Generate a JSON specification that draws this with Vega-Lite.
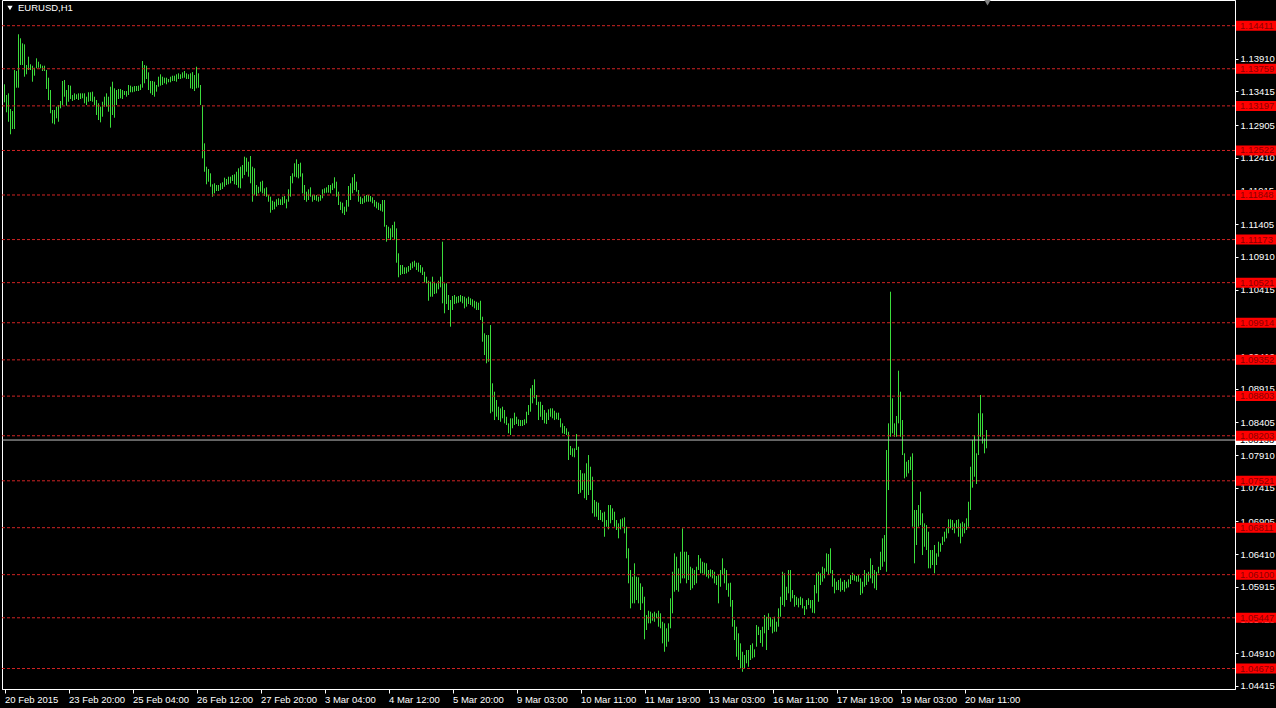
{
"$schema":"https://vega.github.io/schema/vega-lite/v6.json",
"width":1233,"height":689,
"autosize":{"type":"none"},
"padding":{"left":2,"top":0,"right":41,"bottom":19},
"background":"#000000",
"config":{"view":{"stroke":"#ffffff","strokeWidth":1},"font":"Liberation Sans"},
"datasets":{
"bars":[
{"i":0,"h":1.13524,"l":1.13251},{"i":1,"h":1.13362,"l":1.13100},{"i":2,"h":1.13387,"l":1.12957},{"i":3,"h":1.13150,"l":1.12767},{"i":4,"h":1.13119,"l":1.12847},{"i":5,"h":1.13740,"l":1.12847},{"i":6,"h":1.13725,"l":1.13472},{"i":7,"h":1.14281,"l":1.13472},{"i":8,"h":1.14220,"l":1.13816},{"i":9,"h":1.14144,"l":1.13816},
{"i":10,"h":1.14129,"l":1.13639},{"i":11,"h":1.13816,"l":1.13675},{"i":12,"h":1.13942,"l":1.13740},{"i":13,"h":1.13827,"l":1.13740},{"i":14,"h":1.13805,"l":1.13563},{"i":15,"h":1.13775,"l":1.13654},{"i":16,"h":1.13917,"l":1.13766},{"i":17,"h":1.13866,"l":1.13775},{"i":18,"h":1.13827,"l":1.13766},{"i":19,"h":1.13805,"l":1.13725},
{"i":20,"h":1.13805,"l":1.13725},{"i":21,"h":1.13740,"l":1.13453},{"i":22,"h":1.13624,"l":1.13286},{"i":23,"h":1.13437,"l":1.13085},{"i":24,"h":1.13135,"l":1.12933},{"i":25,"h":1.13135,"l":1.12918},{"i":26,"h":1.13185,"l":1.13009},{"i":27,"h":1.13210,"l":1.12957},{"i":28,"h":1.13271,"l":1.13160},{"i":29,"h":1.13574,"l":1.13210},
{"i":30,"h":1.13589,"l":1.13336},{"i":31,"h":1.13437,"l":1.13200},{"i":32,"h":1.13513,"l":1.13260},{"i":33,"h":1.13503,"l":1.13301},{"i":34,"h":1.13362,"l":1.13271},{"i":35,"h":1.13387,"l":1.13286},{"i":36,"h":1.13372,"l":1.13301},{"i":37,"h":1.13387,"l":1.13286},{"i":38,"h":1.13387,"l":1.13301},{"i":39,"h":1.13387,"l":1.13312},
{"i":40,"h":1.13387,"l":1.13236},{"i":41,"h":1.13336,"l":1.13210},{"i":42,"h":1.13403,"l":1.13260},{"i":43,"h":1.13403,"l":1.13271},{"i":44,"h":1.13412,"l":1.13260},{"i":45,"h":1.13336,"l":1.13210},{"i":46,"h":1.13286,"l":1.13059},{"i":47,"h":1.13236,"l":1.12983},{"i":48,"h":1.13185,"l":1.12948},{"i":49,"h":1.13260,"l":1.13033},
{"i":50,"h":1.13336,"l":1.13185},{"i":51,"h":1.13387,"l":1.13185},{"i":52,"h":1.13336,"l":1.13109},{"i":53,"h":1.13487,"l":1.12867},{"i":54,"h":1.13563,"l":1.13059},{"i":55,"h":1.13463,"l":1.13018},{"i":56,"h":1.13437,"l":1.13210},{"i":57,"h":1.13453,"l":1.13301},{"i":58,"h":1.13453,"l":1.13312},{"i":59,"h":1.13437,"l":1.13301},
{"i":60,"h":1.13422,"l":1.13362},{"i":61,"h":1.13422,"l":1.13336},{"i":62,"h":1.13513,"l":1.13362},{"i":63,"h":1.13503,"l":1.13403},{"i":64,"h":1.13487,"l":1.13403},{"i":65,"h":1.13498,"l":1.13412},{"i":66,"h":1.13498,"l":1.13422},{"i":67,"h":1.13503,"l":1.13422},{"i":68,"h":1.13524,"l":1.13437},{"i":69,"h":1.13876,"l":1.13472},
{"i":70,"h":1.13816,"l":1.13539},{"i":71,"h":1.13805,"l":1.13604},{"i":72,"h":1.13705,"l":1.13437},{"i":73,"h":1.13574,"l":1.13387},{"i":74,"h":1.13574,"l":1.13362},{"i":75,"h":1.13563,"l":1.13336},{"i":76,"h":1.13513,"l":1.13412},{"i":77,"h":1.13639,"l":1.13487},{"i":78,"h":1.13675,"l":1.13503},{"i":79,"h":1.13639,"l":1.13513},
{"i":80,"h":1.13624,"l":1.13539},{"i":81,"h":1.13624,"l":1.13524},{"i":82,"h":1.13604,"l":1.13554},{"i":83,"h":1.13639,"l":1.13554},{"i":84,"h":1.13654,"l":1.13574},{"i":85,"h":1.13654,"l":1.13574},{"i":86,"h":1.13675,"l":1.13563},{"i":87,"h":1.13690,"l":1.13604},{"i":88,"h":1.13675,"l":1.13604},{"i":89,"h":1.13705,"l":1.13615},
{"i":90,"h":1.13725,"l":1.13624},{"i":91,"h":1.13690,"l":1.13604},{"i":92,"h":1.13675,"l":1.13604},{"i":93,"h":1.13690,"l":1.13463},{"i":94,"h":1.13709,"l":1.13453},{"i":95,"h":1.13664,"l":1.13422},{"i":96,"h":1.13790,"l":1.13463},{"i":97,"h":1.13690,"l":1.13472},{"i":98,"h":1.13513,"l":1.13210},{"i":99,"h":1.13210,"l":1.12403},
{"i":100,"h":1.12630,"l":1.12200},{"i":101,"h":1.12276,"l":1.12010},{"i":102,"h":1.12241,"l":1.12049},{"i":103,"h":1.12176,"l":1.11973},{"i":104,"h":1.12010,"l":1.11822},{"i":105,"h":1.12025,"l":1.11873},{"i":106,"h":1.11999,"l":1.11908},{"i":107,"h":1.11999,"l":1.11908},{"i":108,"h":1.12025,"l":1.11923},{"i":109,"h":1.12040,"l":1.11939},
{"i":110,"h":1.12110,"l":1.11973},{"i":111,"h":1.12090,"l":1.11999},{"i":112,"h":1.12125,"l":1.12010},{"i":113,"h":1.12125,"l":1.12025},{"i":114,"h":1.12151,"l":1.12060},{"i":115,"h":1.12161,"l":1.12010},{"i":116,"h":1.12200,"l":1.11999},{"i":117,"h":1.12252,"l":1.11958},{"i":118,"h":1.12276,"l":1.11949},{"i":119,"h":1.12302,"l":1.12100},
{"i":120,"h":1.12428,"l":1.12151},{"i":121,"h":1.12412,"l":1.12200},{"i":122,"h":1.12352,"l":1.12125},{"i":123,"h":1.12438,"l":1.12025},{"i":124,"h":1.12276,"l":1.11746},{"i":125,"h":1.12252,"l":1.11848},{"i":126,"h":1.11999,"l":1.11833},{"i":127,"h":1.11973,"l":1.11873},{"i":128,"h":1.12049,"l":1.11898},{"i":129,"h":1.12064,"l":1.11873},
{"i":130,"h":1.11949,"l":1.11833},{"i":131,"h":1.11964,"l":1.11822},{"i":132,"h":1.11848,"l":1.11746},{"i":133,"h":1.11822,"l":1.11580},{"i":134,"h":1.11761,"l":1.11621},{"i":135,"h":1.11746,"l":1.11631},{"i":136,"h":1.11783,"l":1.11671},{"i":137,"h":1.11798,"l":1.11696},{"i":138,"h":1.11783,"l":1.11696},{"i":139,"h":1.11822,"l":1.11696},
{"i":140,"h":1.11833,"l":1.11722},{"i":141,"h":1.11783,"l":1.11646},{"i":142,"h":1.11934,"l":1.11746},{"i":143,"h":1.12135,"l":1.11822},{"i":144,"h":1.12176,"l":1.12025},{"i":145,"h":1.12328,"l":1.12125},{"i":146,"h":1.12388,"l":1.12116},{"i":147,"h":1.12317,"l":1.12100},{"i":148,"h":1.12337,"l":1.12125},{"i":149,"h":1.12176,"l":1.11873},
{"i":150,"h":1.11999,"l":1.11772},{"i":151,"h":1.11898,"l":1.11746},{"i":152,"h":1.11934,"l":1.11772},{"i":153,"h":1.11964,"l":1.11822},{"i":154,"h":1.11848,"l":1.11746},{"i":155,"h":1.11848,"l":1.11772},{"i":156,"h":1.11848,"l":1.11761},{"i":157,"h":1.11822,"l":1.11746},{"i":158,"h":1.11848,"l":1.11761},{"i":159,"h":1.11934,"l":1.11798},
{"i":160,"h":1.11949,"l":1.11873},{"i":161,"h":1.11964,"l":1.11883},{"i":162,"h":1.11999,"l":1.11883},{"i":163,"h":1.11999,"l":1.11873},{"i":164,"h":1.12025,"l":1.11923},{"i":165,"h":1.12116,"l":1.11949},{"i":166,"h":1.12049,"l":1.11822},{"i":167,"h":1.11898,"l":1.11696},{"i":168,"h":1.11746,"l":1.11621},{"i":169,"h":1.11731,"l":1.11571},
{"i":170,"h":1.11671,"l":1.11545},{"i":171,"h":1.11772,"l":1.11595},{"i":172,"h":1.11984,"l":1.11671},{"i":173,"h":1.12025,"l":1.11772},{"i":174,"h":1.12116,"l":1.11873},{"i":175,"h":1.12166,"l":1.11923},{"i":176,"h":1.12049,"l":1.11898},{"i":177,"h":1.11923,"l":1.11746},{"i":178,"h":1.11822,"l":1.11711},{"i":179,"h":1.11798,"l":1.11711},
{"i":180,"h":1.11833,"l":1.11731},{"i":181,"h":1.11848,"l":1.11746},{"i":182,"h":1.11848,"l":1.11746},{"i":183,"h":1.11833,"l":1.11746},{"i":184,"h":1.11813,"l":1.11722},{"i":185,"h":1.11772,"l":1.11671},{"i":186,"h":1.11746,"l":1.11646},{"i":187,"h":1.11731,"l":1.11621},{"i":188,"h":1.11711,"l":1.11610},{"i":189,"h":1.11772,"l":1.11595},
{"i":190,"h":1.11772,"l":1.11368},{"i":191,"h":1.11394,"l":1.11141},{"i":192,"h":1.11368,"l":1.11192},{"i":193,"h":1.11343,"l":1.11166},{"i":194,"h":1.11394,"l":1.11207},{"i":195,"h":1.11444,"l":1.11166},{"i":196,"h":1.11343,"l":1.10823},{"i":197,"h":1.10965,"l":1.10602},{"i":198,"h":1.10788,"l":1.10636},{"i":199,"h":1.10788,"l":1.10652},
{"i":200,"h":1.10753,"l":1.10652},{"i":201,"h":1.10753,"l":1.10662},{"i":202,"h":1.10773,"l":1.10686},{"i":203,"h":1.10814,"l":1.10712},{"i":204,"h":1.10838,"l":1.10738},{"i":205,"h":1.10853,"l":1.10762},{"i":206,"h":1.10823,"l":1.10712},{"i":207,"h":1.10823,"l":1.10686},{"i":208,"h":1.10788,"l":1.10671},{"i":209,"h":1.10753,"l":1.10636},
{"i":210,"h":1.10686,"l":1.10520},{"i":211,"h":1.10611,"l":1.10511},{"i":212,"h":1.10550,"l":1.10247},{"i":213,"h":1.10535,"l":1.10308},{"i":214,"h":1.10611,"l":1.10308},{"i":215,"h":1.10535,"l":1.10349},{"i":216,"h":1.10511,"l":1.10359},{"i":217,"h":1.10550,"l":1.10420},{"i":218,"h":1.10611,"l":1.10450},{"i":219,"h":1.11141,"l":1.10208},
{"i":220,"h":1.10511,"l":1.10057},{"i":221,"h":1.10511,"l":1.10197},{"i":222,"h":1.10334,"l":1.10107},{"i":223,"h":1.10258,"l":1.09854},{"i":224,"h":1.10319,"l":1.10107},{"i":225,"h":1.10334,"l":1.10197},{"i":226,"h":1.10308,"l":1.10208},{"i":227,"h":1.10319,"l":1.10217},{"i":228,"h":1.10334,"l":1.10232},{"i":229,"h":1.10319,"l":1.10208},
{"i":230,"h":1.10308,"l":1.10132},{"i":231,"h":1.10284,"l":1.10157},{"i":232,"h":1.10308,"l":1.10197},{"i":233,"h":1.10284,"l":1.10182},{"i":234,"h":1.10269,"l":1.10157},{"i":235,"h":1.10247,"l":1.10132},{"i":236,"h":1.10232,"l":1.10107},{"i":237,"h":1.10217,"l":1.10107},{"i":238,"h":1.10247,"l":1.09955},{"i":239,"h":1.10005,"l":1.09627},
{"i":240,"h":1.09754,"l":1.09425},{"i":241,"h":1.09728,"l":1.09300},{"i":242,"h":1.09728,"l":1.09324},{"i":243,"h":1.09879,"l":1.08543},{"i":244,"h":1.08997,"l":1.08567},{"i":245,"h":1.08870,"l":1.08441},{"i":246,"h":1.08744,"l":1.08491},{"i":247,"h":1.08643,"l":1.08441},{"i":248,"h":1.08618,"l":1.08415},{"i":249,"h":1.08643,"l":1.08467},
{"i":250,"h":1.08593,"l":1.08391},{"i":251,"h":1.08491,"l":1.08366},{"i":252,"h":1.08391,"l":1.08240},{"i":253,"h":1.08467,"l":1.08214},{"i":254,"h":1.08467,"l":1.08316},{"i":255,"h":1.08552,"l":1.08366},{"i":256,"h":1.08491,"l":1.08381},{"i":257,"h":1.08452,"l":1.08350},{"i":258,"h":1.08441,"l":1.08350},{"i":259,"h":1.08441,"l":1.08350},
{"i":260,"h":1.08452,"l":1.08366},{"i":261,"h":1.08567,"l":1.08391},{"i":262,"h":1.08668,"l":1.08517},{"i":263,"h":1.08921,"l":1.08567},{"i":264,"h":1.08971,"l":1.08694},{"i":265,"h":1.09057,"l":1.08770},{"i":266,"h":1.08820,"l":1.08668},{"i":267,"h":1.08718,"l":1.08441},{"i":268,"h":1.08718,"l":1.08491},{"i":269,"h":1.08668,"l":1.08441},
{"i":270,"h":1.08593,"l":1.08391},{"i":271,"h":1.08552,"l":1.08381},{"i":272,"h":1.08603,"l":1.08441},{"i":273,"h":1.08618,"l":1.08491},{"i":274,"h":1.08618,"l":1.08467},{"i":275,"h":1.08582,"l":1.08441},{"i":276,"h":1.08552,"l":1.08452},{"i":277,"h":1.08552,"l":1.08441},{"i":278,"h":1.08467,"l":1.08331},{"i":279,"h":1.08391,"l":1.08240},
{"i":280,"h":1.08350,"l":1.08229},{"i":281,"h":1.08316,"l":1.08214},{"i":282,"h":1.08264,"l":1.07836},{"i":283,"h":1.08048,"l":1.07911},{"i":284,"h":1.08013,"l":1.07886},{"i":285,"h":1.08013,"l":1.07876},{"i":286,"h":1.08229,"l":1.07987},{"i":287,"h":1.08037,"l":1.07321},{"i":288,"h":1.07684,"l":1.07340},{"i":289,"h":1.07634,"l":1.07381},
{"i":290,"h":1.07634,"l":1.07257},{"i":291,"h":1.07786,"l":1.07230},{"i":292,"h":1.07911,"l":1.07306},{"i":293,"h":1.07734,"l":1.07381},{"i":294,"h":1.07583,"l":1.07029},{"i":295,"h":1.07230,"l":1.06977},{"i":296,"h":1.07204,"l":1.06977},{"i":297,"h":1.07189,"l":1.06927},{"i":298,"h":1.07079,"l":1.06927},{"i":299,"h":1.07038,"l":1.06901},
{"i":300,"h":1.07053,"l":1.06674},{"i":301,"h":1.06927,"l":1.06826},{"i":302,"h":1.07154,"l":1.06786},{"i":303,"h":1.07154,"l":1.06877},{"i":304,"h":1.07104,"l":1.06927},{"i":305,"h":1.07053,"l":1.06826},{"i":306,"h":1.06927,"l":1.06776},{"i":307,"h":1.06877,"l":1.06650},{"i":308,"h":1.06938,"l":1.06786},{"i":309,"h":1.06953,"l":1.06826},
{"i":310,"h":1.06968,"l":1.06726},{"i":311,"h":1.06826,"l":1.06347},{"i":312,"h":1.06499,"l":1.05969},{"i":313,"h":1.06170,"l":1.05590},{"i":314,"h":1.06069,"l":1.05666},{"i":315,"h":1.06272,"l":1.05666},{"i":316,"h":1.06069,"l":1.05716},{"i":317,"h":1.06060,"l":1.05666},{"i":318,"h":1.05969,"l":1.05565},{"i":319,"h":1.05917,"l":1.05666},
{"i":320,"h":1.05766,"l":1.05121},{"i":321,"h":1.05489,"l":1.05262},{"i":322,"h":1.05554,"l":1.05363},{"i":323,"h":1.05539,"l":1.05363},{"i":324,"h":1.05515,"l":1.05403},{"i":325,"h":1.05539,"l":1.05387},{"i":326,"h":1.05515,"l":1.05439},{"i":327,"h":1.05554,"l":1.05312},{"i":328,"h":1.05515,"l":1.05288},{"i":329,"h":1.05387,"l":1.05060},
{"i":330,"h":1.05363,"l":1.04933},{"i":331,"h":1.05288,"l":1.05009},{"i":332,"h":1.05363,"l":1.05085},{"i":333,"h":1.05742,"l":1.05288},{"i":334,"h":1.06144,"l":1.05515},{"i":335,"h":1.06423,"l":1.05842},{"i":336,"h":1.06372,"l":1.05867},{"i":337,"h":1.06196,"l":1.05842},{"i":338,"h":1.06447,"l":1.05969},{"i":339,"h":1.06801,"l":1.06044},
{"i":340,"h":1.06447,"l":1.06044},{"i":341,"h":1.06447,"l":1.05969},{"i":342,"h":1.06397,"l":1.06019},{"i":343,"h":1.06220,"l":1.05867},{"i":344,"h":1.06196,"l":1.05893},{"i":345,"h":1.06170,"l":1.05943},{"i":346,"h":1.06220,"l":1.05969},{"i":347,"h":1.06397,"l":1.06170},{"i":348,"h":1.06347,"l":1.06120},{"i":349,"h":1.06296,"l":1.06120},
{"i":350,"h":1.06281,"l":1.06094},{"i":351,"h":1.06272,"l":1.06069},{"i":352,"h":1.06170,"l":1.06044},{"i":353,"h":1.06181,"l":1.06069},{"i":354,"h":1.06170,"l":1.06044},{"i":355,"h":1.06144,"l":1.05969},{"i":356,"h":1.06079,"l":1.05943},{"i":357,"h":1.06094,"l":1.05666},{"i":358,"h":1.06170,"l":1.05917},{"i":359,"h":1.06347,"l":1.06094},
{"i":360,"h":1.06196,"l":1.05969},{"i":361,"h":1.06170,"l":1.05867},{"i":362,"h":1.05969,"l":1.05766},{"i":363,"h":1.05978,"l":1.05615},{"i":364,"h":1.05716,"l":1.05312},{"i":365,"h":1.05413,"l":1.05110},{"i":366,"h":1.05312,"l":1.04858},{"i":367,"h":1.05212,"l":1.04808},{"i":368,"h":1.05060,"l":1.04682},{"i":369,"h":1.04933,"l":1.04630},
{"i":370,"h":1.04883,"l":1.04682},{"i":371,"h":1.04959,"l":1.04758},{"i":372,"h":1.04959,"l":1.04706},{"i":373,"h":1.05035,"l":1.04808},{"i":374,"h":1.05060,"l":1.04833},{"i":375,"h":1.04970,"l":1.04849},{"i":376,"h":1.05337,"l":1.05009},{"i":377,"h":1.05312,"l":1.05186},{"i":378,"h":1.05262,"l":1.05065},{"i":379,"h":1.05312,"l":1.05009},
{"i":380,"h":1.05489,"l":1.05212},{"i":381,"h":1.05463,"l":1.04959},{"i":382,"h":1.05515,"l":1.05262},{"i":383,"h":1.05454,"l":1.05312},{"i":384,"h":1.05424,"l":1.05212},{"i":385,"h":1.05463,"l":1.05236},{"i":386,"h":1.05387,"l":1.05236},{"i":387,"h":1.05590,"l":1.05312},{"i":388,"h":1.05766,"l":1.05463},{"i":389,"h":1.06144,"l":1.05640},
{"i":390,"h":1.06120,"l":1.05615},{"i":391,"h":1.05917,"l":1.05716},{"i":392,"h":1.06170,"l":1.05817},{"i":393,"h":1.06170,"l":1.05690},{"i":394,"h":1.05867,"l":1.05742},{"i":395,"h":1.05792,"l":1.05615},{"i":396,"h":1.05766,"l":1.05640},{"i":397,"h":1.05742,"l":1.05605},{"i":398,"h":1.05766,"l":1.05640},{"i":399,"h":1.05742,"l":1.05590},
{"i":400,"h":1.05625,"l":1.05489},{"i":401,"h":1.05716,"l":1.05575},{"i":402,"h":1.05742,"l":1.05640},{"i":403,"h":1.05716,"l":1.05590},{"i":404,"h":1.05716,"l":1.05524},{"i":405,"h":1.05943,"l":1.05515},{"i":406,"h":1.06120,"l":1.05817},{"i":407,"h":1.06144,"l":1.05690},{"i":408,"h":1.06120,"l":1.05943},{"i":409,"h":1.06220,"l":1.05993},
{"i":410,"h":1.06196,"l":1.06044},{"i":411,"h":1.06423,"l":1.06144},{"i":412,"h":1.06412,"l":1.06094},{"i":413,"h":1.06499,"l":1.06120},{"i":414,"h":1.06170,"l":1.05917},{"i":415,"h":1.06044,"l":1.05817},{"i":416,"h":1.05993,"l":1.05867},{"i":417,"h":1.06019,"l":1.05867},{"i":418,"h":1.06044,"l":1.05842},{"i":419,"h":1.05993,"l":1.05867},
{"i":420,"h":1.06019,"l":1.05842},{"i":421,"h":1.05993,"l":1.05893},{"i":422,"h":1.06029,"l":1.05908},{"i":423,"h":1.06094,"l":1.05958},{"i":424,"h":1.06129,"l":1.06019},{"i":425,"h":1.06094,"l":1.06008},{"i":426,"h":1.06079,"l":1.05993},{"i":427,"h":1.06094,"l":1.05993},{"i":428,"h":1.06044,"l":1.05792},{"i":429,"h":1.05993,"l":1.05817},
{"i":430,"h":1.06170,"l":1.05917},{"i":431,"h":1.06120,"l":1.05943},{"i":432,"h":1.06144,"l":1.05993},{"i":433,"h":1.06347,"l":1.06044},{"i":434,"h":1.06246,"l":1.05969},{"i":435,"h":1.06170,"l":1.05893},{"i":436,"h":1.06144,"l":1.05867},{"i":437,"h":1.06220,"l":1.06120},{"i":438,"h":1.06447,"l":1.06170},{"i":439,"h":1.06650,"l":1.06220},
{"i":440,"h":1.06700,"l":1.06296},{"i":441,"h":1.07987,"l":1.06144},{"i":442,"h":1.08391,"l":1.07381},{"i":443,"h":1.10384,"l":1.08188},{"i":444,"h":1.08770,"l":1.08240},{"i":445,"h":1.08391,"l":1.08188},{"i":446,"h":1.08502,"l":1.08188},{"i":447,"h":1.09188,"l":1.08391},{"i":448,"h":1.08870,"l":1.08188},{"i":449,"h":1.08441,"l":1.07911},
{"i":450,"h":1.07937,"l":1.07558},{"i":451,"h":1.07810,"l":1.07583},{"i":452,"h":1.07836,"l":1.07634},{"i":453,"h":1.07886,"l":1.07684},{"i":454,"h":1.07937,"l":1.06826},{"i":455,"h":1.07079,"l":1.06272},{"i":456,"h":1.07079,"l":1.06549},{"i":457,"h":1.07154,"l":1.06826},{"i":458,"h":1.07356,"l":1.06851},{"i":459,"h":1.07029,"l":1.06397},
{"i":460,"h":1.06877,"l":1.06523},{"i":461,"h":1.06851,"l":1.06473},{"i":462,"h":1.06750,"l":1.06196},{"i":463,"h":1.06473,"l":1.06196},{"i":464,"h":1.06473,"l":1.06246},{"i":465,"h":1.06549,"l":1.06120},{"i":466,"h":1.06423,"l":1.06246},{"i":467,"h":1.06599,"l":1.06372},{"i":468,"h":1.06574,"l":1.06447},{"i":469,"h":1.06674,"l":1.06549},
{"i":470,"h":1.06750,"l":1.06599},{"i":471,"h":1.06801,"l":1.06650},{"i":472,"h":1.06938,"l":1.06726},{"i":473,"h":1.06938,"l":1.06801},{"i":474,"h":1.06927,"l":1.06776},{"i":475,"h":1.06877,"l":1.06726},{"i":476,"h":1.06927,"l":1.06801},{"i":477,"h":1.06938,"l":1.06674},{"i":478,"h":1.06877,"l":1.06574},{"i":479,"h":1.06901,"l":1.06674},
{"i":480,"h":1.06877,"l":1.06726},{"i":481,"h":1.06953,"l":1.06776},{"i":482,"h":1.07204,"l":1.06826},{"i":483,"h":1.07734,"l":1.07079},{"i":484,"h":1.08138,"l":1.07417},{"i":485,"h":1.08214,"l":1.07583},{"i":486,"h":1.07937,"l":1.07472},{"i":487,"h":1.08543,"l":1.07911},{"i":488,"h":1.08820,"l":1.08188},{"i":489,"h":1.08543,"l":1.08084},
{"i":490,"h":1.08164,"l":1.07937},{"i":491,"h":1.08290,"l":1.08013}
],
"levels":[{"v":1.14411},{"v":1.13759},{"v":1.13197},{"v":1.12522},{"v":1.11848},{"v":1.11173},{"v":1.10521},{"v":1.09914},{"v":1.09352},{"v":1.08803},{"v":1.08203},{"v":1.07521},{"v":1.06811},{"v":1.06100},{"v":1.05447},{"v":1.04679}]
},
"layer":[
{"data":{"name":"bars"},
 "mark":{"type":"rule","color":"#3bdc3b","strokeWidth":1},
 "encoding":{
  "x":{"field":"i","type":"quantitative","scale":{"domain":[-1.25,615.25],"nice":false,"zero":false},
   "axis":{"title":null,"grid":false,"tickCount":40,"values":[0,32,64,96,128,160,192,224,256,288,320,352,384,416,448,480],
    "labelExpr":"['20 Feb 2015','23 Feb 20:00','25 Feb 04:00','26 Feb 12:00','27 Feb 20:00','3 Mar 04:00','4 Mar 12:00','5 Mar 20:00','9 Mar 03:00','10 Mar 11:00','11 Mar 19:00','13 Mar 03:00','16 Mar 11:00','17 Mar 19:00','19 Mar 03:00','20 Mar 11:00'][round(datum.value/32)]",
    "labelAlign":"left","labelBaseline":"top","labelColor":"#ffffff","labelFont":"Liberation Sans","labelFontSize":9.5,"labelPadding":1,
    "labelOverlap":false,"labelFlush":false,"tickColor":"#ffffff","tickSize":4,"domainColor":"#ffffff"}},
  "y":{"field":"h","type":"quantitative","scale":{"domain":[1.04369,1.148],"nice":false,"zero":false},
   "axis":{"title":null,"orient":"right","grid":false,"tickCount":40,"values":[1.04415,1.0491,1.0542,1.05915,1.0641,1.06905,1.07415,1.0791,1.08405,1.08915,1.0941,1.0991,1.10415,1.1091,1.11405,1.11915,1.1241,1.12905,1.13415,1.1391],
    "format":".5f","labelColor":"#ffffff","labelFont":"Liberation Sans","labelFontSize":9.5,"labelPadding":2,"labelBaseline":"middle",
    "labelOverlap":false,"labelFlush":false,"tickColor":"#ffffff","tickSize":3,"domainColor":"#ffffff"}},
  "y2":{"field":"l"}}},
{"data":{"name":"levels"},
 "mark":{"type":"rule","color":"#d02424","strokeWidth":1,"strokeDash":[3,2]},
 "encoding":{"y":{"field":"v","type":"quantitative","title":null}}},
{"data":{"values":[{"p":1.08138}]},
 "mark":{"type":"rule","color":"#c0c0c0","strokeWidth":1},
 "encoding":{"y":{"field":"p","type":"quantitative","title":null}}},
{"data":{"values":[{"p":1.08138}]},
 "mark":{"type":"point","shape":"M-1,-0.25H1V0.25H-1Z","filled":true,"color":"#ffffff","opacity":1,"size":1600,"strokeWidth":0},
 "encoding":{"x":{"datum":625.75,"type":"quantitative","title":null},"y":{"field":"p","type":"quantitative","title":null}}},
{"data":{"values":[{"p":1.08138}]},
 "mark":{"type":"text","align":"left","baseline":"middle","color":"#000000","font":"Liberation Sans","fontSize":9.5},
 "encoding":{"x":{"datum":617.75,"type":"quantitative","title":null},"y":{"field":"p","type":"quantitative","title":null},"text":{"field":"p","type":"quantitative","format":".5f"}}},
{"data":{"name":"levels"},
 "mark":{"type":"point","shape":"M-1,-0.25H1V0.25H-1Z","filled":true,"color":"#ff0000","opacity":1,"size":1600,"strokeWidth":0},
 "encoding":{"x":{"datum":625.75,"type":"quantitative","title":null},"y":{"field":"v","type":"quantitative","title":null}}},
{"data":{"name":"levels"},
 "mark":{"type":"text","align":"left","baseline":"middle","color":"#8b0000","font":"Liberation Sans","fontSize":9.5},
 "encoding":{"x":{"datum":617.75,"type":"quantitative","title":null},"y":{"field":"v","type":"quantitative","title":null},"text":{"field":"v","type":"quantitative","format":".5f"}}},
{"data":{"values":[{"t":"EURUSD,H1"}]},
 "mark":{"type":"text","align":"left","baseline":"middle","color":"#ffffff","font":"Liberation Sans","fontSize":9.5},
 "encoding":{"x":{"datum":6.75,"type":"quantitative","title":null},"y":{"datum":1.14679,"type":"quantitative","title":null},"text":{"field":"t"}}},
{"data":{"values":[{"t":"a"}]},
 "mark":{"type":"point","shape":"triangle-down","filled":true,"color":"#ffffff","opacity":1,"size":28},
 "encoding":{"x":{"datum":2.75,"type":"quantitative","title":null},"y":{"datum":1.14679,"type":"quantitative","title":null}}},
{"data":{"values":[{"t":"b"}]},
 "mark":{"type":"point","shape":"triangle-down","filled":true,"color":"#808080","opacity":1,"size":40},
 "encoding":{"x":{"datum":491.5,"type":"quantitative","title":null},"y":{"datum":1.1476,"type":"quantitative","title":null}}}
]
}
